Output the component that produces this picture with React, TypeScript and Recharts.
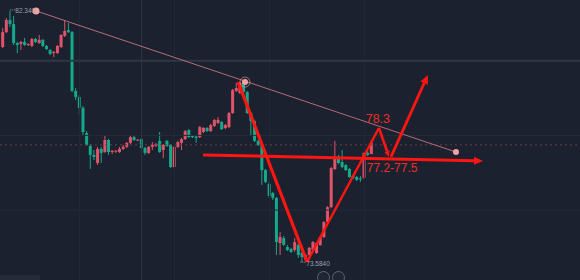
import { ComposedChart, Bar, XAxis, YAxis, ReferenceLine, ReferenceDot } from 'recharts';

// candle values, index 0..101
const opens = [
  81.08, 81.6, 82.02, 81.88, 81.22, 81.19, 81.26, 81.17, 81.12, 81.36,
  81.22, 81.33, 81.12, 80.98, 80.87, 80.87, 81.08, 81.47, 81.67, 81.6,
  79.55, 79.34, 78.96, 78.08, 77.63, 77.32, 77.04, 77.53, 77.42, 77.84,
  77.42, 77.45, 77.42, 77.53, 77.6, 77.74, 77.94, 77.84, 77.87, 77.56,
  77.39, 77.6, 77.63, 77.81, 77.49, 77.81, 77.67, 76.9, 77.6, 77.74,
  77.87, 78.19, 77.98, 77.96, 77.94, 78.12, 78.26, 78.15, 78.33, 78.43,
  78.47, 78.26, 78.29, 78.78, 79.55, 79.48, 79.83, 79.51, 78.78, 78.5,
  77.81, 77.67, 76.79, 76.31, 75.99, 75.82, 74.25, 74.42, 74.11, 74.04,
  74.01, 74.18, 73.9, 73.66, 73.83, 74.01, 73.9, 74.18, 74.46, 74.98,
  75.5, 76.83, 77.25, 77.07, 76.97, 76.83, 76.59, 76.55, 76.5, 76.52,
  77.39, 77.35,
];
const highs = [
  81.74, 82.09, 82.34, 82.16, 81.26, 81.29, 81.4, 81.22, 81.4, 81.4,
  81.5, 81.36, 81.15, 81.01, 80.94, 81.15, 81.53, 81.99, 81.92, 81.64,
  79.65, 79.41, 79.03, 78.15, 77.7, 77.49, 77.6, 77.6, 78.01, 77.87,
  77.49, 77.49, 77.6, 77.67, 77.77, 77.98, 77.98, 77.87, 77.91, 77.6,
  77.63, 77.77, 77.74, 78.12, 77.7, 77.84, 77.7, 77.63, 77.81, 77.91,
  78.19, 78.22, 78.01, 78.01, 78.33, 78.29, 78.29, 78.4, 78.57, 78.64,
  78.5, 78.4, 78.82, 79.62, 79.83, 79.86, 79.9, 79.55, 78.82, 78.54,
  77.84, 77.7, 76.83, 76.38, 76.03, 75.85, 74.63, 74.49, 74.18, 74.08,
  74.42, 74.25, 73.94, 73.87, 74.11, 74.32, 74.28, 74.49, 75.01, 75.53,
  76.9, 77.81, 77.32, 77.49, 77.0, 76.86, 76.62, 76.59, 76.59, 77.42,
  77.46, 77.81,
];
const lows = [
  81.05, 81.57, 81.78, 81.15, 80.87, 80.98, 81.12, 81.12, 81.08, 81.22,
  81.19, 81.08, 80.98, 80.8, 80.73, 80.84, 81.05, 81.43, 81.57, 79.51,
  79.23, 78.71, 78.01, 77.63, 76.83, 77.14, 76.97, 77.04, 77.39, 77.32,
  77.35, 77.39, 77.39, 77.49, 77.56, 77.7, 77.81, 77.81, 77.53, 77.32,
  77.35, 77.49, 77.6, 77.39, 77.21, 77.6, 76.86, 76.86, 77.56, 77.49,
  77.84, 77.91, 77.91, 77.74, 77.91, 78.08, 78.12, 78.12, 78.29, 78.4,
  78.19, 78.22, 78.26, 78.75, 79.51, 79.44, 79.48, 78.75, 78.01, 77.77,
  77.63, 76.27, 76.34, 75.82, 75.75, 73.83, 73.83, 74.15, 73.97, 73.9,
  73.94, 73.73, 73.58, 73.62, 73.8, 73.97, 73.87, 74.15, 74.42, 74.94,
  75.47, 76.79, 77.0, 76.86, 76.76, 76.52, 76.48, 76.41, 76.38, 76.48,
  77.28, 77.35,
];
const closes = [
  81.6, 82.02, 81.88, 81.22, 81.15, 81.26, 81.15, 81.18, 81.36, 81.26,
  81.33, 81.12, 81.01, 80.84, 80.91, 81.12, 81.5, 81.64, 81.6, 79.55,
  79.34, 78.96, 78.12, 77.67, 77.32, 77.25, 77.53, 77.39, 77.84, 77.42,
  77.46, 77.47, 77.53, 77.6, 77.74, 77.94, 77.84, 77.85, 77.56, 77.39,
  77.6, 77.67, 77.7, 77.42, 77.67, 77.63, 76.9, 77.6, 77.77, 77.87,
  78.15, 77.94, 77.94, 77.91, 78.29, 78.26, 78.15, 78.36, 78.54, 78.54,
  78.22, 78.36, 78.78, 79.58, 79.65, 79.83, 79.51, 78.78, 78.5, 77.81,
  77.67, 76.79, 76.38, 75.89, 75.82, 74.28, 74.46, 74.18, 74.01, 73.94,
  74.28, 73.83, 73.76, 73.83, 74.08, 74.28, 74.25, 74.46, 74.98, 75.5,
  76.86, 77.25, 77.04, 76.9, 76.79, 76.55, 76.52, 76.45, 76.49, 77.39,
  77.32, 77.74,
];

// background grid / price lines
const gridPrices = [78.0, 75.4];
const crossPrice = 80.6;
const gridIdx = [21, 47, 73, 99];
const crossIdx = 38;
const lastPrice = 77.67;

// drawings: [index, price]
const trendLine = [[9.04, 82.34], [124.1, 77.42]];
const trendTouch = [66.3, 79.86];
const supportLine = [[54.8, 77.32], [131.5, 77.11]];
const vDown = [[64.4, 79.86], [83.3, 73.59]];
const vUp = [[83.3, 73.59], [103.0, 78.26]];
const pullback = [[103.0, 78.26], [105.75, 77.25]];
const breakout = [[106.3, 77.25], [116.4, 80.11]];
const peakLabel = { text: '78.3', at: [102.7, 78.57] };
const zoneLabel = { text: '77.2-77.5', at: [106.6, 76.86] };
const highMark = { text: '82.340', at: [2, 82.34] };
const lowMark = { text: '73.5840', at: [82, 73.58] };

const data = opens.map((o, i) => ({
  i,
  open: o,
  high: highs[i],
  low: lows[i],
  close: closes[i],
  range: [lows[i], highs[i]],
}));

const UP = '#df5468';
const DOWN = '#15a98b';
const RED = '#ff1512';
const PINK = '#f4a2a4';
const FONT = '"Liberation Sans", Arial, sans-serif';

function Candle(props: any) {
  const { x, y, width, height } = props;
  const d = props.payload ?? props;
  const top0 = Math.min(y, y + height);
  const h = Math.abs(height);
  const k = d.high > d.low ? h / (d.high - d.low) : 0;
  const cx = x + width / 2;
  const bTop = top0 + (d.high - Math.max(d.open, d.close)) * k;
  const bBot = top0 + (d.high - Math.min(d.open, d.close)) * k;
  const color = d.close >= d.open ? UP : DOWN;
  return (
    <g>
      <line x1={cx} x2={cx} y1={top0} y2={top0 + Math.max(h, 1)} stroke={color} strokeWidth={1} />
      <rect x={x} y={bTop} width={width} height={Math.max(1, bBot - bTop)} fill={color} />
    </g>
  );
}

const arrow = (w: number, head: number) => (p: any) => {
  const { x1, y1, x2, y2 } = p;
  const dx = x2 - x1;
  const dy = y2 - y1;
  const len = Math.hypot(dx, dy) || 1;
  const ux = dx / len;
  const uy = dy / len;
  const bx = x2 - ux * head;
  const by = y2 - uy * head;
  const hw = head * 0.45;
  return (
    <g>
      <line x1={x1} y1={y1} x2={bx} y2={by} stroke={RED} strokeWidth={w} />
      <polygon points={`${x2},${y2} ${bx - uy * hw},${by + ux * hw} ${bx + uy * hw},${by - ux * hw}`} fill={RED} />
    </g>
  );
};

const seg = (s: number[][]) => [
  { x: s[0][0], y: s[0][1] },
  { x: s[1][0], y: s[1][1] },
];

export default function App() {
  return (
    <div style={{ position: 'fixed', left: 0, top: 0, width: 580, height: 280, background: '#1b212e', overflow: 'hidden' }}>
      <ComposedChart width={580} height={280} data={data} margin={{ top: 0, right: 0, left: 0, bottom: 0 }}>
        <XAxis type="number" dataKey="i" domain={[-0.822, 158.08]} hide allowDataOverflow />
        <YAxis type="number" domain={[72.96, 82.72]} hide allowDataOverflow />

        {gridPrices.map(p => (
          <ReferenceLine key={'gp' + p} y={p} stroke="#252c39" strokeWidth={1} />
        ))}
        {gridIdx.map(v => (
          <ReferenceLine key={'gi' + v} x={v} stroke="#232a37" strokeWidth={1} />
        ))}
        <ReferenceLine y={crossPrice} stroke="#2f3645" strokeWidth={2} />
        <ReferenceLine x={crossIdx} stroke="#2f3644" strokeWidth={1} />
        <ReferenceLine y={lastPrice} stroke="#6a3c4b" strokeDasharray="2 3" strokeWidth={1} />

        <Bar dataKey="range" barSize={3} shape={Candle} isAnimationActive={false} />

        <ReferenceLine segment={seg(trendLine)} stroke="#b86c76" strokeWidth={1} />
        <ReferenceDot x={trendLine[0][0]} y={trendLine[0][1]} r={3.5} fill={PINK} stroke="none" />
        <ReferenceDot
          x={trendTouch[0]}
          y={trendTouch[1]}
          shape={(p: any) => (
            <g>
              <circle cx={p.cx} cy={p.cy} r={5} fill="none" stroke={PINK} strokeOpacity={0.6} strokeWidth={1} />
              <circle cx={p.cx} cy={p.cy} r={3} fill={PINK} />
            </g>
          )}
        />
        <ReferenceDot x={trendLine[1][0]} y={trendLine[1][1]} r={3} fill={PINK} stroke="none" />

        <ReferenceDot
          x={highMark.at[0]}
          y={highMark.at[1]}
          shape={(p: any) => (
            <g>
              <line x1={p.cx} y1={p.cy - 1} x2={p.cx + 5} y2={p.cy - 1} stroke="#8a909c" strokeDasharray="1 1" />
              <text x={p.cx + 5} y={p.cy + 2} fontSize={6.5} fill="#9aa1ad" fontFamily={FONT}>{highMark.text}</text>
            </g>
          )}
        />
        <ReferenceDot
          x={lowMark.at[0]}
          y={lowMark.at[1]}
          shape={(p: any) => (
            <g>
              <line x1={p.cx - 2} y1={p.cy} x2={p.cx + 4} y2={p.cy} stroke="#8a909c" strokeDasharray="1 1" />
              <text x={p.cx + 4} y={p.cy + 4} fontSize={6.5} fill="#9aa1ad" fontFamily={FONT}>{lowMark.text}</text>
            </g>
          )}
        />

        <ReferenceLine segment={seg(supportLine)} shape={arrow(3, 9)} />
        <ReferenceLine segment={seg(vDown)} stroke={RED} strokeWidth={3.2} />
        <ReferenceLine segment={seg(vUp)} stroke={RED} strokeWidth={2.4} />
        <ReferenceLine segment={seg(pullback)} shape={arrow(2.6, 6)} />
        <ReferenceLine segment={seg(breakout)} shape={arrow(2.8, 9)} />

        <ReferenceDot
          x={peakLabel.at[0]}
          y={peakLabel.at[1]}
          shape={(p: any) => (
            <text x={p.cx} y={p.cy} textAnchor="middle" dominantBaseline="central" fontSize={12.5} fill="#ec2f2a" fontFamily={FONT}>
              {peakLabel.text}
            </text>
          )}
        />
        <ReferenceDot
          x={zoneLabel.at[0]}
          y={zoneLabel.at[1]}
          shape={(p: any) => (
            <text x={p.cx} y={p.cy} textAnchor="middle" dominantBaseline="central" fontSize={12} fill="#ec2f2a" fontFamily={FONT}>
              {zoneLabel.text}
            </text>
          )}
        />
      </ComposedChart>
      <div style={{ position: 'absolute', left: 0, top: 275, width: 40, height: 6, background: '#252b38' }} />
      {[323, 338].map(cx => (
        <div
          key={cx}
          style={{ position: 'absolute', left: cx - 6, top: 271, width: 11, height: 11, borderRadius: '50%', border: '1px solid #5f6572', background: '#1f2532' }}
        />
      ))}
    </div>
  );
}
